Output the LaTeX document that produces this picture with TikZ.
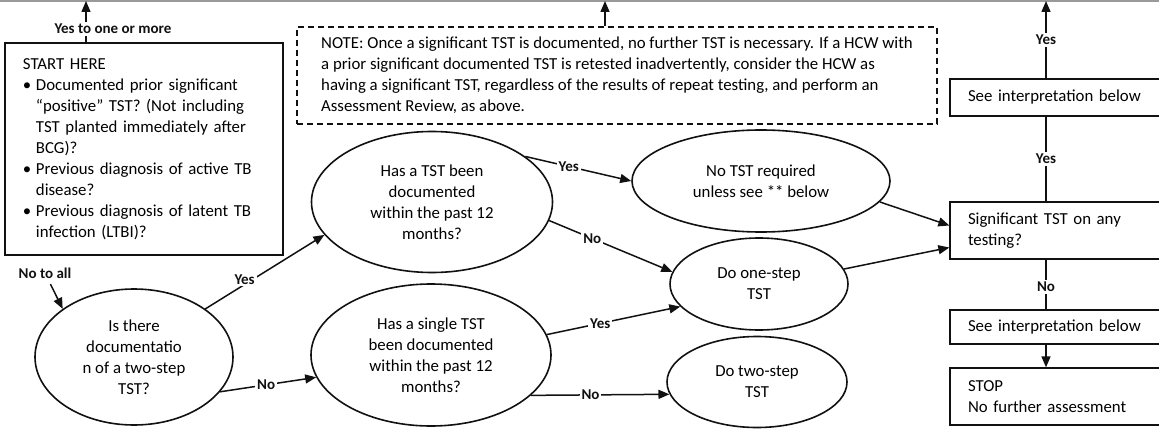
\documentclass[tikz,border=0pt]{standalone}
\usepackage{fontspec}
\setmainfont{Carlito}
\usetikzlibrary{
    shapes.geometric,
    arrows.meta,
    positioning,
    calc
}
\definecolor{ink}{HTML}{111111}
\definecolor{rule}{HTML}{9A9A9A}
\newcommand{\bodyfont}{\fontsize{16.8}{21}\selectfont}
\newcommand{\tagfont}{\fontsize{15}{18}\selectfont\bfseries}
\newcommand{\bul}{\makebox[13pt][l]{\textbullet}}
\newcommand{\hang}{\hspace*{13pt}}
\tikzset{
    % Question and action ellipses
    decision/.style={
        ellipse,
        draw=ink,
        line width=1.6pt,
        inner sep=0pt,
        align=center,
        font=\bodyfont
    },
    % Boxes of the right column
    stepbox/.style={
        rectangle,
        draw=ink,
        line width=1.3pt,
        text width=204pt,
        inner xsep=18pt,
        align=left,
        font=\bodyfont
    },
    % Start box
    startbox/.style={
        rectangle,
        draw=ink,
        line width=1.3pt,
        inner xsep=18pt,
        align=left,
        font=\bodyfont
    },
    % Dashed note
    notebox/.style={
        rectangle,
        draw=ink,
        line width=1.3pt,
        dash pattern=on 6pt off 4pt,
        align=left,
        font=\bodyfont
    },
    % Arrow styles
    flow/.style={
        -{Triangle[length=11pt, width=9pt]},
        line width=1.5pt,
        color=ink
    },
    plainflow/.style={
        line width=1.5pt,
        color=ink
    },
    % Label style
    label text/.style={
        font=\tagfont,
        text=ink,
        fill=white,
        inner sep=2pt
    }
}

\begin{document}
\begin{tikzpicture}[x=1pt, y=-1pt]
        \useasboundingbox (0,0) rectangle (1159,433);
        \clip (0,0) rectangle (1159,433);

        % Edge of the box above
        \coordinate (edgeL) at (0,1);
        \coordinate (edgeR) at (1159,1);
        \draw[rule, line width=1.5pt] (edgeL) -- (edgeR);
        \coordinate (upA) at (86,1);
        \coordinate (upB) at (605,1);
        \coordinate (colx) at (1046,1);

        % Start and note
        \node[startbox, minimum width=278pt, minimum height=212pt, text width=242pt] (start) at (144,149)
            {START HERE\\
             \bul Documented prior significant\\
             \hang ``positive'' TST? (Not including\\
             \hang TST planted immediately after\\
             \hang BCG)?\\
             \bul Previous diagnosis of active TB\\
             \hang disease?\\
             \bul Previous diagnosis of latent TB\\
             \hang infection (LTBI)?};
        \node[notebox, minimum width=640pt, minimum height=97pt] (note) at (617,75.5)
            {NOTE: Once a significant TST is documented, no further TST is necessary. If a HCW with\\
             a prior significant documented TST is retested inadvertently, consider the HCW as\\
             having a significant TST, regardless of the results of repeat testing, and perform an\\
             Assessment Review, as above.};

        % Ellipses
        \node[decision, minimum width=198pt, minimum height=136pt] (twostep) at (134,357) {Is there\\documentatio\\n of a two-step\\TST?};
        \node[decision, minimum width=241pt, minimum height=141pt] (anytst) at (432,202) {Has a TST been\\documented\\within the past 12\\months?};
        \node[decision, minimum width=240pt, minimum height=142pt] (singletst) at (431,355) {Has a single TST\\been documented\\within the past 12\\months?};
        \node[decision, minimum width=258pt, minimum height=102pt] (notreq) at (761,181) {No TST required\\unless see ** below};
        \node[decision, minimum width=178pt, minimum height=92pt] (onestep) at (759,284) {Do one-step\\TST};
        \node[decision, minimum width=180pt, minimum height=91pt] (twostepdo) at (757,382) {Do two-step\\TST};

        % Right column
        \node[stepbox, minimum height=37pt] (interpA) at (1070,97.5) {See interpretation below};
        \node[stepbox, minimum height=57pt] (signif) at (1070,230.5) {Significant TST on any\\testing?};
        \node[stepbox, minimum height=34pt] (interpB) at (1070,327) {See interpretation below};
        \node[stepbox, minimum height=57pt] (stop) at (1070,396.5) {STOP\\No further assessment};

        % Arrows out of the top
        \draw[flow] (start.north -| upA) -- node[label text, pos=0.33, xshift=27pt] {Yes to one or more} (upA);
        \draw[flow] (note.north -| upB) -- (upB);
        \draw[flow] (interpA.north -| colx) -- node[label text] {Yes} (colx);

        % Left part
        \node[label text, fill=none] (notoall) at (45,273) {No to all};
        \draw[flow, shorten <=4pt] (notoall) -- (twostep.146);
        \draw[flow] (twostep.34) -- node[label text, pos=0.33, yshift=5pt] {Yes} (anytst.197);
        \draw[flow] (twostep.-22) -- node[label text, pos=0.48] {No} (singletst.191);

        % Middle part
        \draw[flow] (anytst.26) -- node[label text, pos=0.41] {Yes} (notreq.west);
        \draw[flow] (anytst.-9) -- node[label text, pos=0.35] {No} (onestep.172);
        \draw[flow] (singletst.10) -- node[label text, pos=0.4] {Yes} (onestep.196);
        \draw[flow] (singletst.-22) -- node[label text, pos=0.43] {No} (twostepdo.188);
        \draw[flow] (notreq.-10.5) -- ([yshift=5pt]signif.west);
        \draw[flow] (onestep.10.5) -- ([yshift=-17pt]signif.west);

        % Right column links
        \draw[plainflow] (signif.north -| colx) -- node[label text] {Yes} (interpA.south -| colx);
        \draw[plainflow] (signif.south -| colx) -- node[label text, pos=0.55] {No} (interpB.north -| colx);
        \draw[flow] (interpB.south -| colx) -- (stop.north -| colx);

    \end{tikzpicture}
\end{document}
